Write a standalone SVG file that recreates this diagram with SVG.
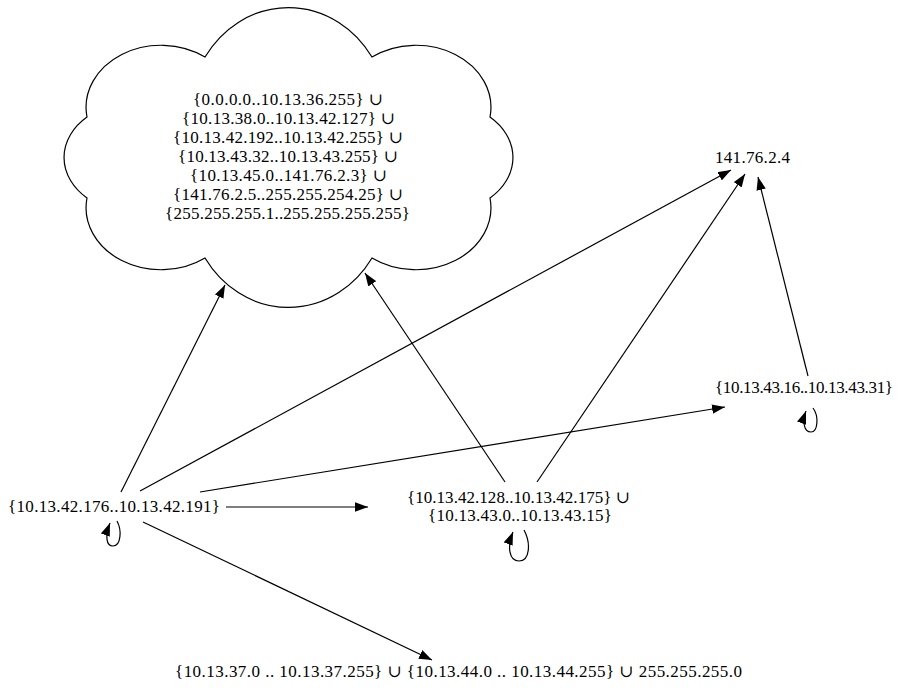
<svg xmlns="http://www.w3.org/2000/svg" width="906" height="693" viewBox="0 0 906 693">
<style>
text { font-family: "Liberation Serif", "DejaVu Serif", serif; font-size: 17px; fill: #000; }
.e { fill: none; stroke: #000; stroke-width: 1.2; marker-end: url(#ah); }
.cloud { fill: #fff; stroke: #000; stroke-width: 1.2; }
</style>
<defs>
<marker id="ah" viewBox="0 0 13 9.5" refX="13" refY="4.75" markerWidth="13" markerHeight="9.5" markerUnits="userSpaceOnUse" orient="auto">
<path d="M0,0 L13,4.75 L0,9.5 Z" fill="#000"/>
</marker>
</defs>
<rect width="906" height="693" fill="#fff"/>
<g id="connectors">
<path class="e" d="M121,492 L225,285"/>
<path class="e" d="M140,491 L731,170"/>
<path class="e" d="M200,492 L725,407"/>
<path class="e" d="M226,507 L368,507"/>
<path class="e" d="M143,522 L432,660"/>
<path class="e" d="M505,482 L365,273"/>
<path class="e" d="M537,482 L745,174"/>
<path class="e" d="M808,376 L758,177"/>
<path class="e" d="M117,521 C122,530 121,546 113,546 C106,546 105,536 110,523"/>
<path class="e" d="M524,530 C531,543 530,561 519,561 C509,561 507,547 513,532"/>
<path class="e" d="M813,408 C819,416 818,432 811,432 C804,432 802,422 806,411"/>
</g>
<g id="cloud">
<path class="cloud" d="M87,117 A75,62 0 0 1 205,57 A100,110 0 0 1 372,57 A75,62 0 0 1 490,117 A71,55 0 0 1 490,198 A75,62 0 0 1 372,258 A100,110 0 0 1 205,258 A75,62 0 0 1 87,198 A71,55 0 0 1 87,117 Z"/>
<text x="288" y="105" text-anchor="middle" textLength="190">{0.0.0.0..10.13.36.255} ∪</text>
<text x="288.5" y="124" text-anchor="middle" textLength="213">{10.13.38.0..10.13.42.127} ∪</text>
<text x="288" y="143" text-anchor="middle" textLength="230">{10.13.42.192..10.13.42.255} ∪</text>
<text x="288" y="162" text-anchor="middle" textLength="220">{10.13.43.32..10.13.43.255} ∪</text>
<text x="288.5" y="181" text-anchor="middle" textLength="197">{10.13.45.0..141.76.2.3} ∪</text>
<text x="288" y="200" text-anchor="middle" textLength="230">{141.76.2.5..255.255.254.25} ∪</text>
<text x="287.5" y="219" text-anchor="middle" textLength="245">{255.255.255.1..255.255.255.255}</text>
</g>
<g id="n141">
<text x="752.5" y="163" text-anchor="middle" textLength="75">141.76.2.4</text>
</g>
<g id="nC">
<text x="804" y="393" text-anchor="middle" textLength="178">{10.13.43.16..10.13.43.31}</text>
</g>
<g id="nA">
<text x="114" y="512" text-anchor="middle" textLength="212">{10.13.42.176..10.13.42.191}</text>
</g>
<g id="nB">
<text x="518.5" y="503" text-anchor="middle" textLength="223">{10.13.42.128..10.13.42.175} ∪</text>
<text x="520" y="521" text-anchor="middle" textLength="184">{10.13.43.0..10.13.43.15}</text>
</g>
<g id="nBottom">
<text x="458.5" y="677" text-anchor="middle" textLength="567">{10.13.37.0 .. 10.13.37.255} ∪ {10.13.44.0 .. 10.13.44.255} ∪ 255.255.255.0</text>
</g>
</svg>
